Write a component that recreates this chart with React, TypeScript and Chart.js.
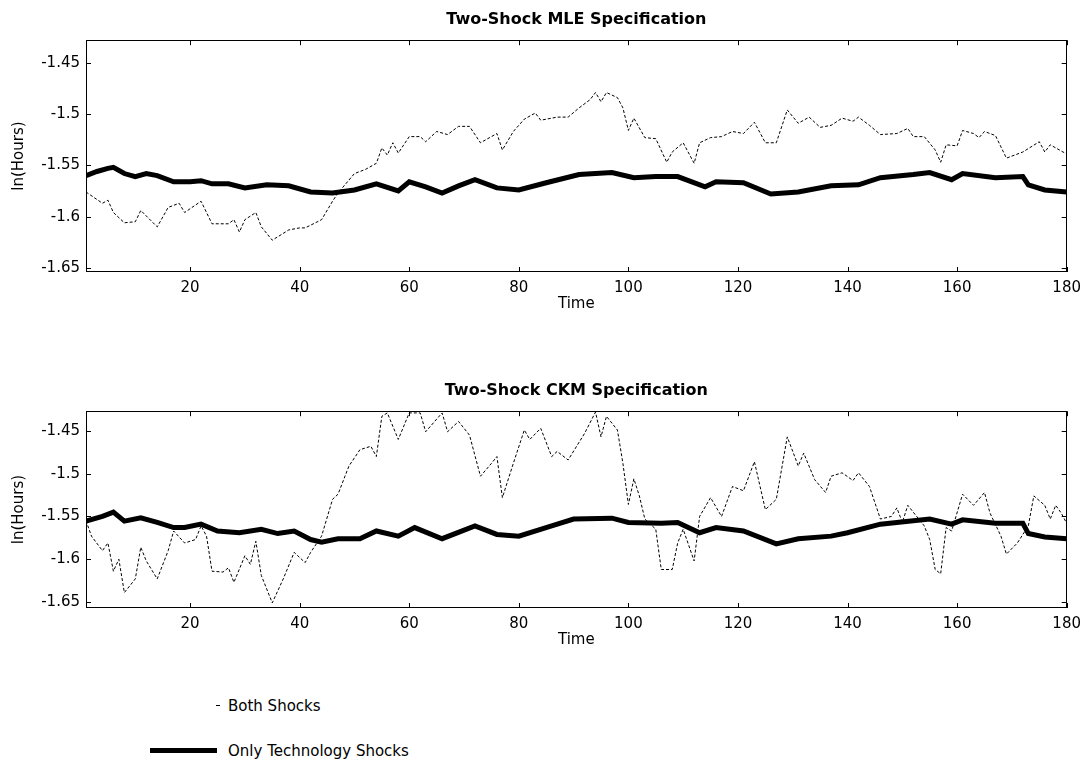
import React, { useEffect, useRef } from "react";
import { Chart, registerables } from "chart.js";

Chart.register(...registerables);

// ---------- data ----------
const mleBothT = [1, 4, 5, 6, 8, 10, 11, 14, 16, 18, 19, 22, 24, 27, 28, 29, 30, 32, 33, 35, 38, 40, 41, 44, 46, 47, 50, 52, 54, 55, 56, 57, 58, 60, 62, 63, 65, 67, 69, 71, 73, 76, 77, 79, 81, 83, 84, 87, 89, 91, 93, 94, 95, 96, 98, 99, 100, 101, 103, 105, 107, 108, 110, 112, 113, 115, 117, 119, 121, 123, 125, 127, 129, 131, 133, 135, 137, 139, 141, 142, 144, 146, 149, 151, 152, 154, 156, 157, 158, 160, 161, 163, 164, 165, 167, 169, 172, 175, 176, 177, 180];
const mleBothV = [-1.576, -1.587, -1.584, -1.596, -1.606, -1.605, -1.594, -1.61, -1.591, -1.587, -1.596, -1.585, -1.607, -1.607, -1.603, -1.615, -1.603, -1.596, -1.61, -1.623, -1.613, -1.611, -1.611, -1.603, -1.585, -1.577, -1.558, -1.554, -1.548, -1.533, -1.54, -1.528, -1.538, -1.522, -1.522, -1.527, -1.517, -1.52, -1.512, -1.512, -1.528, -1.519, -1.535, -1.517, -1.505, -1.499, -1.506, -1.503, -1.503, -1.494, -1.486, -1.479, -1.488, -1.479, -1.484, -1.494, -1.516, -1.504, -1.523, -1.524, -1.547, -1.537, -1.528, -1.548, -1.528, -1.523, -1.522, -1.517, -1.519, -1.508, -1.528, -1.528, -1.496, -1.509, -1.503, -1.513, -1.511, -1.504, -1.507, -1.503, -1.511, -1.52, -1.519, -1.514, -1.522, -1.522, -1.535, -1.547, -1.53, -1.531, -1.516, -1.519, -1.523, -1.517, -1.521, -1.543, -1.537, -1.527, -1.537, -1.53, -1.539];

const mleTechT = [1, 3, 5, 6, 8, 10, 12, 14, 17, 20, 22, 24, 27, 30, 34, 38, 42, 46, 50, 54, 58, 60, 63, 66, 69, 72, 76, 80, 85, 91, 97, 101, 105, 109, 114, 116, 121, 126, 131, 137, 142, 146, 152, 155, 159, 161, 167, 172, 173, 176, 180];
const mleTechV = [-1.56, -1.556, -1.553, -1.552, -1.558, -1.561, -1.558, -1.56, -1.566, -1.566, -1.565, -1.568, -1.568, -1.572, -1.569, -1.57, -1.576, -1.577, -1.574, -1.568, -1.575, -1.566, -1.571, -1.577, -1.57, -1.564, -1.572, -1.574, -1.567, -1.559, -1.557, -1.562, -1.561, -1.561, -1.571, -1.566, -1.567, -1.578, -1.576, -1.57, -1.569, -1.562, -1.559, -1.557, -1.564, -1.558, -1.562, -1.561, -1.569, -1.574, -1.576];

const ckmBothT = [1, 2, 4, 5, 6, 7, 8, 10, 11, 12, 14, 16, 17, 19, 21, 22, 23, 24, 26, 27, 28, 30, 31, 32, 33, 35, 37, 39, 41, 42, 44, 46, 47, 49, 51, 53, 54, 55, 56, 58, 60, 62, 63, 66, 67, 69, 71, 73, 75, 76, 77, 79, 81, 82, 84, 86, 87, 89, 92, 94, 95, 96, 98, 99, 100, 101, 102, 103, 105, 106, 108, 109, 110, 112, 113, 115, 117, 119, 121, 123, 125, 127, 129, 131, 132, 134, 136, 137, 139, 141, 142, 144, 146, 148, 149, 150, 151, 154, 155, 156, 157, 158, 159, 161, 163, 165, 166, 168, 169, 171, 173, 174, 176, 177, 178, 179, 180];
const ckmBothV = [-1.555, -1.573, -1.59, -1.581, -1.614, -1.6, -1.639, -1.623, -1.586, -1.602, -1.623, -1.59, -1.567, -1.581, -1.577, -1.561, -1.573, -1.614, -1.615, -1.61, -1.627, -1.596, -1.606, -1.579, -1.619, -1.651, -1.623, -1.592, -1.604, -1.592, -1.573, -1.53, -1.524, -1.491, -1.472, -1.468, -1.48, -1.433, -1.429, -1.46, -1.429, -1.429, -1.451, -1.429, -1.451, -1.439, -1.455, -1.503, -1.488, -1.48, -1.528, -1.488, -1.449, -1.46, -1.447, -1.48, -1.474, -1.484, -1.453, -1.428, -1.457, -1.433, -1.449, -1.488, -1.536, -1.506, -1.526, -1.553, -1.565, -1.612, -1.612, -1.581, -1.565, -1.602, -1.55, -1.528, -1.55, -1.515, -1.52, -1.486, -1.542, -1.53, -1.457, -1.491, -1.476, -1.507, -1.522, -1.503, -1.499, -1.508, -1.499, -1.515, -1.553, -1.55, -1.54, -1.557, -1.537, -1.561, -1.577, -1.612, -1.617, -1.563, -1.567, -1.524, -1.537, -1.522, -1.546, -1.573, -1.594, -1.581, -1.561, -1.526, -1.537, -1.553, -1.537, -1.546, -1.558];

const ckmTechT = [1, 4, 6, 8, 11, 14, 17, 19, 22, 25, 29, 33, 36, 39, 42, 44, 47, 51, 54, 58, 61, 66, 72, 76, 80, 86, 90, 97, 100, 106, 109, 113, 116, 121, 127, 131, 137, 140, 146, 155, 159, 161, 167, 172, 173, 176, 180];
const ckmTechV = [-1.5555, -1.55, -1.545, -1.5555, -1.5516, -1.557, -1.563, -1.563, -1.559, -1.567, -1.569, -1.565, -1.57, -1.567, -1.577, -1.58, -1.576, -1.576, -1.567, -1.573, -1.563, -1.576, -1.561, -1.571, -1.573, -1.561, -1.553, -1.552, -1.557, -1.558, -1.557, -1.569, -1.563, -1.567, -1.582, -1.576, -1.573, -1.569, -1.559, -1.553, -1.559, -1.554, -1.558, -1.558, -1.57, -1.574, -1.576];

const xTicks = [20, 40, 60, 80, 100, 120, 140, 160, 180];
const yTicks = [-1.45, -1.5, -1.55, -1.6, -1.65];
const yTickLabels = ["-1.45", "-1.5", "-1.55", "-1.6", "-1.65"];

const seriesNames = ["Both Shocks", "Only Technology Shocks"];
const titles = ["Two-Shock MLE Specification", "Two-Shock CKM Specification"];
const xTitle = "Time";
const yTitle = "ln(Hours)";

const FONT = '"DejaVu Sans", Verdana, sans-serif';

const toPts = (t: number[], v: number[]) => t.map((x, i) => ({ x, y: v[i] }));

const boxPlugin = {
  id: "matlabBox",
  afterDraw(chart: any) {
    const { ctx, chartArea: a, scales } = chart;
    ctx.save();
    ctx.strokeStyle = "#000";
    ctx.lineWidth = 1;
    ctx.strokeRect(Math.round(a.left) + 0.5, Math.round(a.top) + 0.5, Math.round(a.width) - 1, Math.round(a.height) - 1);
    const tl = 5;
    ctx.beginPath();
    xTicks.forEach((v) => {
      const x = Math.round(scales.x.getPixelForValue(v)) + 0.5;
      ctx.moveTo(x, a.bottom);
      ctx.lineTo(x, a.bottom - tl);
      ctx.moveTo(x, a.top);
      ctx.lineTo(x, a.top + tl);
    });
    yTicks.forEach((v) => {
      const y = Math.round(scales.y.getPixelForValue(v)) + 0.5;
      ctx.moveTo(a.left, y);
      ctx.lineTo(a.left + tl, y);
      ctx.moveTo(a.right, y);
      ctx.lineTo(a.right - tl, y);
    });
    ctx.stroke();
    ctx.restore();
  },
};

function makeConfig(title: string, both: any[], tech: any[], yMin: number, yMax: number, padRight: number, xAxisH: number): any {
  return {
    type: "line",
    data: {
      datasets: [
        {
          label: seriesNames[0],
          data: both,
          borderColor: "#000",
          borderWidth: 1,
          borderDash: [3, 2],
          pointRadius: 0,
          tension: 0,
        },
        {
          label: seriesNames[1],
          data: tech,
          borderColor: "#000",
          borderWidth: 5,
          pointRadius: 0,
          tension: 0,
        },
      ],
    },
    options: {
      animation: false,
      responsive: false,
      maintainAspectRatio: false,
      layout: { padding: { left: 0, right: padRight, top: 0, bottom: 0 } },
      plugins: {
        legend: { display: false },
        tooltip: { enabled: false },
        title: {
          display: true,
          text: title,
          fullSize: false,
          color: "#000",
          font: { family: FONT, size: 16, weight: "bold" },
          padding: { top: 10.4, bottom: 10.6 },
        },
      },
      scales: {
        x: {
          type: "linear",
          min: 1,
          max: 180,
          grid: { display: false, drawTicks: false },
          border: { display: false },
          afterBuildTicks: (s: any) => {
            s.ticks = xTicks.map((v) => ({ value: v }));
          },
          afterFit: (s: any) => {
            s.height = xAxisH;
          },
          ticks: {
            color: "#000",
            font: { family: FONT, size: 15 },
            padding: 7,
            maxRotation: 0,
            autoSkip: false,
            callback: (v: number) => String(v),
          },
          title: {
            display: true,
            text: xTitle,
            color: "#000",
            font: { family: FONT, size: 15 },
            padding: { top: 0, bottom: 4 },
          },
        },
        y: {
          type: "linear",
          min: yMin,
          max: yMax,
          grid: { display: false, drawTicks: false },
          border: { display: false },
          afterBuildTicks: (s: any) => {
            s.ticks = yTicks.map((v) => ({ value: v }));
          },
          afterFit: (s: any) => {
            s.width = 86;
          },
          ticks: {
            color: "#000",
            font: { family: FONT, size: 15 },
            padding: 6,
            autoSkip: false,
            callback: (v: number) => {
              const i = yTicks.findIndex((t) => Math.abs(t - v) < 1e-6);
              return i >= 0 ? yTickLabels[i] : "";
            },
          },
          title: {
            display: true,
            text: yTitle,
            color: "#000",
            font: { family: FONT, size: 15 },
            padding: { top: 10, bottom: 0 },
          },
        },
      },
    },
    plugins: [boxPlugin],
  };
}

function ChartCanvas(props: { config: () => any; top: number; height: number }) {
  const ref = useRef<HTMLCanvasElement | null>(null);
  useEffect(() => {
    if (!ref.current) return;
    const chart = new Chart(ref.current, props.config());
    return () => chart.destroy();
  }, []);
  return (
    <canvas
      ref={ref}
      width={1088}
      height={props.height}
      style={{ position: "absolute", left: 0, top: props.top, width: 1088, height: props.height }}
    />
  );
}

export default function App() {
  return (
    <div style={{ position: "absolute", left: 0, top: 0, width: 1088, height: 760, background: "#fff", overflow: "hidden" }}>
      <ChartCanvas
        top={0}
        height={317}
        config={() => makeConfig(titles[0], toPts(mleBothT, mleBothV), toPts(mleTechT, mleTechV), -1.654, -1.428, 19, 45)}
      />
      <ChartCanvas
        top={371}
        height={282}
        config={() => makeConfig(titles[1], toPts(ckmBothT, ckmBothV), toPts(ckmTechT, ckmTechV), -1.657, -1.427, 17, 45)}
      />
      {/* legend */}
      <div style={{ position: "absolute", left: 216, top: 705, width: 4, height: 1, background: "#000" }} />
      <div style={{ position: "absolute", left: 228, top: 697, font: `15px ${FONT}`, color: "#000", lineHeight: "18px", whiteSpace: "nowrap" }}>
        {seriesNames[0]}
      </div>
      <div style={{ position: "absolute", left: 150, top: 748, width: 67, height: 5, background: "#000" }} />
      <div style={{ position: "absolute", left: 228, top: 742, font: `15px ${FONT}`, color: "#000", lineHeight: "18px", whiteSpace: "nowrap" }}>
        {seriesNames[1]}
      </div>
    </div>
  );
}
